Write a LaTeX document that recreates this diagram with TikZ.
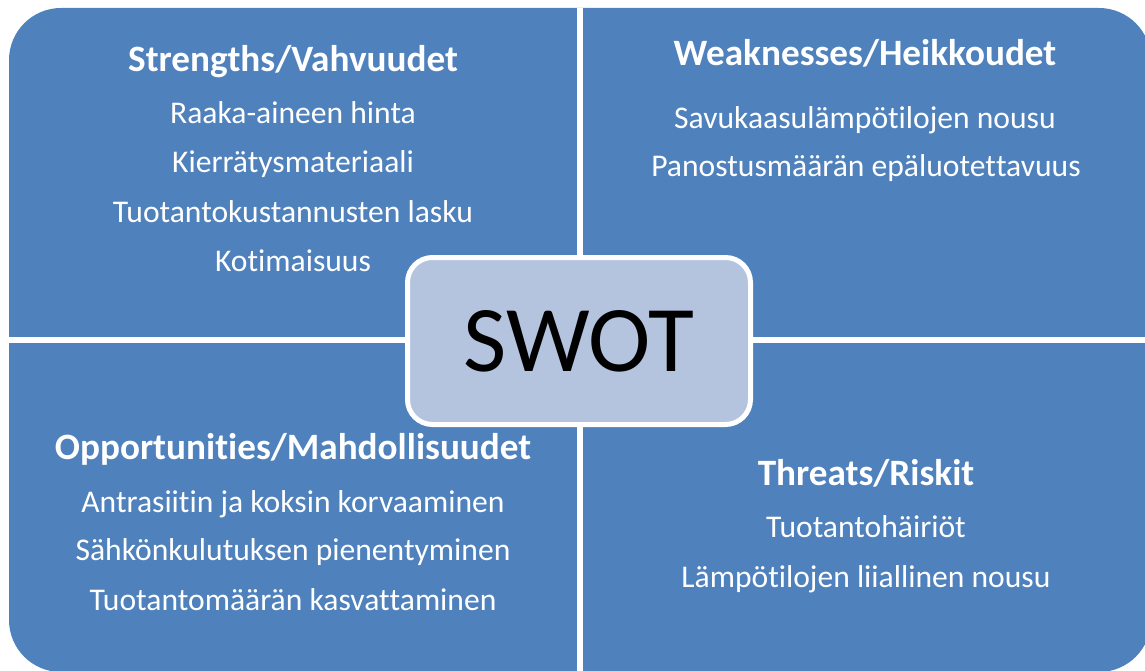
\documentclass[tikz,border=0pt]{standalone}
\usepackage{fontspec}
\setmainfont{Carlito}
\newcommand{\brk}{\kern0pt}
\definecolor{swotblue}{RGB}{79,129,189}
\definecolor{swotlight}{RGB}{180,195,222}
\begin{document}
\begin{tikzpicture}[x=1pt,y=-1pt,
    head/.style={anchor=base,inner sep=0pt,text=white,font=\fontsize{37.2}{44}\selectfont\bfseries},
    item/.style={anchor=base,inner sep=0pt,text=white,font=\fontsize{31.6}{38}\selectfont},
    gap/.style={draw=white,line width=5.5pt}]
  \useasboundingbox (0,0) rectangle (1145,671);
  \node[fill=swotblue,rounded corners=52pt,inner sep=0pt,minimum width=1142pt,minimum height=664pt] (board) at (580,340) {};
  \draw[gap] (board.north) -- (board.south);
  \draw[gap] (board.west) -- (board.east);
  % strengths
  \node[head] (s) at (293,72) {Strengths/Vahvuudet};
  \node[item] (s1) at (293,124) {Raaka-aineen hinta};
  \node[item] (s2) at (293,173) {Kierrätysmateriaali};
  \node[item] (s3) at (293,222.5) {Tuotantokustannusten lasku};
  \node[item] (s4) at (293,271.5) {Kot\brk imaisuus};
  % weaknesses
  \node[head] (w) at (865,66) {Weaknesses/Heikkoudet};
  \node[item] (w1) at (865,128.5) {Savukaasulämpöt\brk ilojen nousu};
  \node[item] (w2) at (866,177) {Panostusmäärän epäluotet\brk tavuus};
  % opportunities
  \node[head] (o) at (293,459.5) {Opportunit\brk ies/Mahdollisuudet};
  \node[item] (o1) at (293,512) {Antrasiit\brk in ja koksin korvaaminen};
  \node[item] (o2) at (293,560.5) {Sähkönkulutuksen pienentyminen};
  \node[item] (o3) at (293,610) {Tuotantomäärän kasvat\brk taminen};
  % threats
  \node[head] (t) at (866,485) {Threats/Riskit};
  \node[item] (t1) at (866,537.5) {Tuotantohäiriöt};
  \node[item] (t2) at (866,587) {Lämpöt\brk ilojen liiallinen nousu};
  \node[draw=white,line width=5pt,fill=swotlight,rounded corners=25pt,minimum width=343pt,minimum height=167pt,font=\fontsize{94}{100}\selectfont] (swot) at (579,341) {SWOT};
\end{tikzpicture}
\end{document}
